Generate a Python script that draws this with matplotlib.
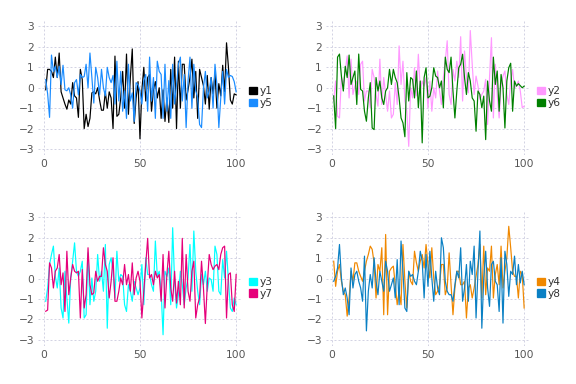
import numpy as np
import matplotlib
matplotlib.use("Agg")
import matplotlib.pyplot as plt
from matplotlib.patches import Patch

x = np.arange(1, 101)

y1 = [-0.1, 0.9, 0.9, 0.8, 0.5, 1.5, 0.5, 1.7, -0.2, -0.5,
      -0.8, -1.05, -0.6, -0.8, 0.25, -0.4, -0.5, -1.45, 0.9, 0.4,
      -2.0, -1.3, -1.9, -1.5, -0.25, -0.2, -0.3, 0.0, -0.6, -1.1,
      -1.1, -0.2, -1.0, -0.2, -0.5, -2.0, 1.55, -1.4, -1.3, -0.5,
      0.8, -1.0, 1.65, -1.3, 0.5, 1.9, -1.75, -0.5, 0.3, -2.5,
      -0.1, 1.0, -0.65, 0.5, 0.65, -1.15, -0.1, 0.3, -0.5, 0.0,
      -1.5, -0.1, -1.65, -0.5, -1.7, 0.9, -1.0, 1.5, -2.0, 1.3,
      -1.0, 1.15, 1.15, -0.6, -0.1, 0.5, 1.4, -0.5, 0.8, -1.5,
      0.9, 0.5, 0.1, -0.8, 0.6, -1.05, 0.5, -0.3, 0.7, -1.0,
      0.2, -0.4, 1.1, -0.2, 2.2, 1.0, -0.6, -0.8, -0.3, -0.35]
y5 = [0.4, -0.3, -1.45, 1.6, 0.8, 1.05, 0.5, 1.05, 0.15, 1.1,
      -0.1, -0.15, 0.0, -0.35, -1.0, 0.25, 0.4, -0.35, 0.65, 0.5,
      0.55, 1.15, 0.0, 1.7, 0.5, -0.75, 1.0, 0.5, -0.35, 0.9,
      0.0, -0.4, 1.0, 0.5, 0.25, 0.6, -0.8, 1.3, -0.65, 0.8,
      -1.15, -0.15, -1.5, 1.15, -0.65, -0.25, -1.65, 0.25, 0.15, -0.15,
      -0.8, 0.35, 0.65, -1.15, 1.5, -0.65, 0.5, -1.5, 1.3, 0.8,
      0.65, -1.5, 1.15, -1.15, 0.35, -1.5, 1.15, -0.8, 0.15, 1.15,
      1.5, -0.65, 0.65, -1.95, 0.35, 1.5, -1.0, 1.15, -0.15, -0.5,
      -1.8, -1.95, 0.0, 0.8, -0.5, -0.15, 0.5, -1.0, 1.15, 0.15,
      -1.95, -0.5, 0.8, -0.8, 0.9, 0.5, 0.6, 0.55, 0.3, -0.2]
y2 = [-0.65, 0.33, -1.4, -1.48, 0.5, 0.16, 0.82, 1.56, -0.5, 1.4,
      -0.33, 0.08, 0.33, -0.33, 1.15, 1.3, -0.65, -0.16, -0.16, -0.98,
      0.9, 0.5, -0.33, -0.9, 1.4, -0.82, 0.5, -0.33, -1.15, -0.16,
      -1.48, -1.3, 0.25, -0.82, 2.05, 0.16, 1.3, -0.65, -1.15, -2.87,
      0.0, -0.5, 0.98, -0.4, 1.64, -0.16, 0.33, 0.08, 0.5, -1.0,
      0.33, -1.15, 0.0, -0.5, 0.82, -0.16, -0.82, 0.5, 1.3, 2.3,
      -0.33, -0.82, 0.9, 0.33, 1.3, 0.5, 2.5, -0.65, 1.8, 0.5,
      -0.25, 2.8, 1.15, -0.33, 0.57, 0.08, -0.57, -0.33, -0.16, 0.41,
      -1.8, 0.5, 2.45, -1.48, 1.15, -0.33, -1.48, 0.16, 0.57, 0.82,
      -0.33, -0.82, 0.33, 0.9, 0.0, 0.08, 0.33, -0.16, -0.98, -0.9]
y6 = [-0.4, -2.0, 1.5, 1.65, 0.57, -0.16, 1.05, 0.5, 1.6, 0.16,
      0.5, 0.82, -0.82, 1.65, -0.08, -0.16, -1.15, -1.64, -0.5, 0.25,
      -1.97, -2.05, 0.5, -0.16, 0.33, -0.5, -0.82, -0.16, 0.0, 0.9,
      0.16, 0.9, 0.5, 0.25, -0.5, -1.48, -1.72, -2.4, 0.74, -0.65,
      0.5, 0.41, -0.5, 0.82, -0.98, 0.33, -2.7, 0.5, 0.98, -0.5,
      -0.41, 0.0, 0.98, 0.57, 0.5, 0.0, 0.33, -0.98, 1.5, 0.9,
      0.74, 1.5, -0.16, -1.48, -0.16, 0.98, 1.15, 1.64, 0.5, -0.33,
      0.74, 0.33, -0.5, -0.65, -2.13, -0.16, -0.33, -0.98, -0.41, -2.54,
      0.33, -0.65, -1.15, 1.5, 0.16, 0.82, -1.15, 0.65, 0.0, -1.97,
      0.33, 0.98, 1.2, -1.15, 0.33, 0.08, 0.2, 0.1, 0.0, 0.08]
y3 = [-1.11, -0.46, 0.69, 1.18, 1.59, 0.11, -0.46, 0.52, -1.44, -1.93,
      0.36, -0.95, -2.18, 0.03, 0.85, 1.75, 0.36, 0.11, 0.36, 0.85,
      -1.93, -1.77, 1.26, -1.28, 0.03, -1.11, -0.62, 1.18, -0.13, 0.36,
      -0.62, 1.67, -2.43, 0.69, 1.02, 0.36, -0.95, 1.34, -0.13, 0.2,
      0.11, -1.28, -1.61, -0.3, -0.62, -1.11, -0.13, -0.46, -0.79, -0.46,
      0.69, -1.28, 1.02, 0.2, 0.2, -0.3, -0.62, 1.84, 0.11, 0.36,
      -0.62, -2.75, 0.36, 0.11, 0.52, -1.28, 2.49, -0.13, -1.44, -0.79,
      0.36, -0.3, -1.28, -0.46, 0.03, 1.67, -0.62, 2.33, 0.36, -0.62,
      -1.28, 0.2, -0.3, 0.36, -0.62, 0.03, -0.05, -0.62, 1.59, 1.18,
      -0.62, -0.79, 0.93, 0.03, 1.34, -0.13, -1.44, -1.61, -0.95, -1.28]
y7 = [-1.6, -1.54, 0.77, 0.52, -0.46, 0.36, 0.52, 1.18, -0.3, 0.28,
      -1.61, 1.34, -0.79, 0.03, 0.69, 0.36, 0.28, 0.36, -1.93, 0.44,
      -1.44, -0.79, 1.51, -0.3, -0.79, -0.7, 0.36, -0.13, 0.11, 0.11,
      1.51, 0.69, 0.36, -0.95, -0.13, 1.02, -1.11, -1.11, -0.62, 0.03,
      -0.3, 0.69, -0.3, 0.2, -0.62, 0.77, -0.79, 0.03, 0.36, -0.13,
      -1.93, -0.62, 0.69, 1.97, 0.03, 0.2, -0.3, 0.36, 0.03, 0.2,
      -1.11, 1.18, -1.44, 0.2, 1.34, -0.46, -1.11, 0.36, -1.2, -0.13,
      -1.28, 1.97, -1.44, 1.18, -0.62, -1.11, 0.36, 0.85, -1.93, -1.28,
      -0.95, 0.85, -0.46, -2.2, -0.3, 1.18, 0.69, 0.44, 0.61, 0.69,
      0.44, 1.18, 1.51, 1.59, -1.93, 0.2, 0.28, -1.28, -1.61, 0.2]
y4 = [0.85, -0.38, 0.36, 0.69, -0.13, -0.62, -0.79, -1.84, -0.95, 0.36,
      -0.13, 0.77, 0.77, 0.36, 0.11, -0.13, 0.36, 0.85, 1.18, 1.59,
      1.43, 0.77, -0.95, 0.69, 0.36, 1.51, -1.77, 2.16, -1.77, 0.36,
      0.52, 0.61, -0.3, -1.28, -0.62, -1.28, 1.67, -0.13, -1.44, 0.36,
      -0.13, -0.3, 1.34, 0.77, 0.36, 0.85, 1.18, 0.52, 1.67, 0.69,
      0.03, 1.51, 0.03, -0.79, -0.62, -0.3, 0.69, 0.69, -0.79, -0.46,
      1.26, -0.3, -1.77, -0.46, 0.36, 0.36, -0.3, -0.3, -0.13, -1.93,
      -0.46, -0.3, -0.95, -0.46, 0.11, 0.69, 1.67, -0.95, 1.59, -0.79,
      0.52, 0.36, 1.59, -0.95, 0.2, 0.69, -0.3, 1.59, -0.46, 0.36,
      1.02, 2.56, 1.51, 0.36, 0.11, 0.11, -0.95, 0.36, 0.2, -1.44]
y8 = [-0.13, 0.11, 0.52, 1.67, 0.03, -0.79, -0.46, -0.95, -1.77, 0.52,
      -0.46, 0.2, 0.36, -0.13, -0.46, -1.11, 1.1, -2.56, -0.62, 0.2,
      -0.46, 1.02, -0.13, -0.79, 0.36, -0.13, -0.62, 0.85, 0.36, -0.62,
      -0.3, 0.03, -0.95, 0.93, -1.28, 1.84, 0.36, -1.44, -1.61, 0.36,
      0.11, 0.2, -0.13, -0.3, 0.36, 1.34, 0.85, -0.95, 1.18, -0.38,
      1.34, 0.03, -1.11, 0.36, -0.46, -0.79, 2.0, 1.51, -0.13, -0.62,
      -0.79, -0.79, -1.11, -0.3, 0.36, 0.03, 1.51, -1.11, -0.46, 0.69,
      -1.11, 0.85, 0.2, 1.59, -1.93, 0.36, 2.33, -2.43, 0.03, 1.34,
      -0.46, -1.36, 0.69, 0.85, -0.13, -0.3, -1.61, 1.02, -2.18, 1.34,
      0.69, -0.87, 0.36, 0.2, 1.1, -0.3, 0.69, -0.21, 0.36, -0.3]

panels = [
    (("y1", y1, "#000000"), ("y5", y5, "#1a8cff")),
    (("y2", y2, "#ff99ff"), ("y6", y6, "#008000")),
    (("y3", y3, "#00ffff"), ("y7", y7, "#e6007a")),
    (("y4", y4, "#f08800"), ("y8", y8, "#0a80c4")),
]

plt.rcParams['font.family'] = ['DejaVu Sans']
fig = plt.figure(figsize=(6, 4), dpi=96)

lefts = [0.066, 0.566]
bottoms = [0.596, 0.099]
w, h = 0.354, 0.351

for k, series in enumerate(panels):
    ax = fig.add_axes([lefts[k % 2], bottoms[k // 2], w, h])
    handles = []
    for name, vals, col in series:
        ax.plot(x, vals, color=col, lw=0.9)
        handles.append(Patch(facecolor=col, edgecolor=col, label=name))
    ax.set_xlim(-3, 103)
    ax.set_ylim(-3.3, 3.3)
    ax.set_xticks([0, 50, 100])
    ax.set_yticks([-3, -2, -1, 0, 1, 2, 3])
    ax.grid(True, color="#c9c9dd", lw=0.6, ls=(0, (2.5, 2.5)))
    for s in ax.spines.values():
        s.set_visible(False)
    ax.tick_params(length=0, labelsize=8, colors="#555555", pad=3)
    ax.legend(handles=handles, loc="center left", bbox_to_anchor=(1.0, 0.43),
              frameon=False, fontsize=8, handlelength=0.7, handleheight=0.7,
              handletextpad=0.3, labelspacing=0.15, borderaxespad=0.3,
              labelcolor="#333333")

fig.savefig("out.png", dpi=96)
